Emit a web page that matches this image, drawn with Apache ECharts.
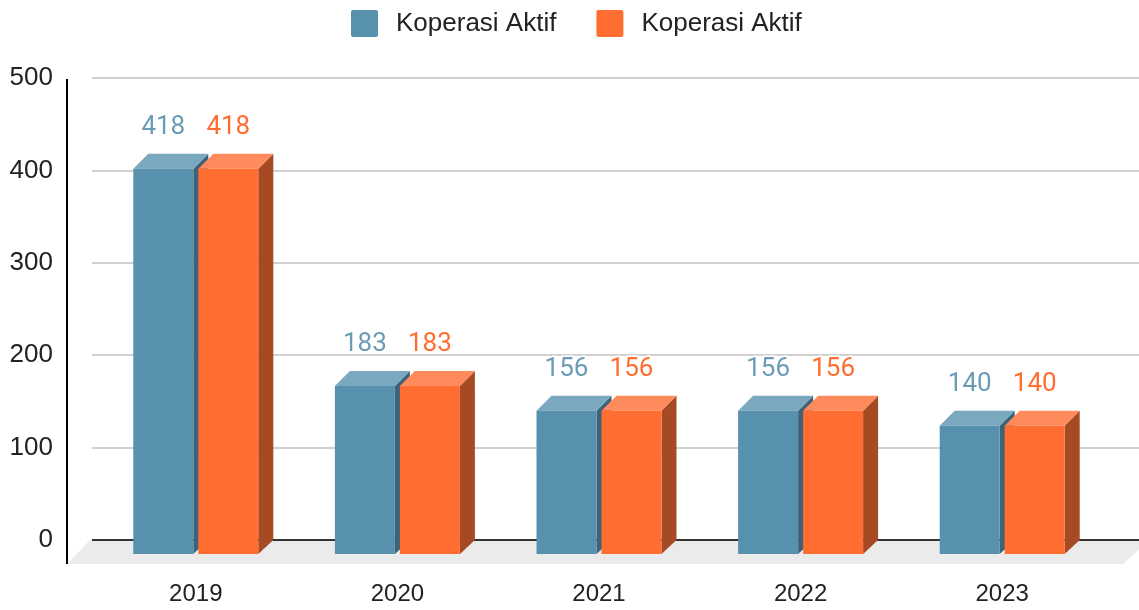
<!DOCTYPE html>
<html>
<head>
<meta charset="utf-8">
<script src="https://cdn.jsdelivr.net/npm/echarts@6/dist/echarts.min.js"></script>
<style>
  html, body { margin: 0; padding: 0; background: #fff; }
  #chart { width: 1139px; height: 610px; }
</style>
</head>
<body>
<div id="chart"></div>
<script>
// chart data
const years = ['2019', '2020', '2021', '2022', '2023'];
const seriesNames = ['Koperasi Aktif', 'Koperasi Aktif '];
const legendLabel = 'Koperasi Aktif';
const valuesA = [418, 183, 156, 156, 140];
const valuesB = [418, 183, 156, 156, 140];
const yTicks = [0, 100, 200, 300, 400, 500];

// pseudo 3D look
const BAR_W = 60;
const GAP = 5;
const DEPTH = 15;
const FLOOR = 24;

const palettes = [
  { front: '#5891ad', top: '#79a8bf', side: '#3d6379', label: '#6b9bb6' },
  { front: '#ff6d31', top: '#ff8a5b', side: '#a54a22', label: '#ff6d31' }
];

function barRenderer(idx) {
  const pal = palettes[idx];
  return function (params, api) {
    const v = api.value(1);
    const top = api.coord([api.value(0), v]);
    const base = api.coord([api.value(0), 0]);
    const x0 = idx === 0 ? top[0] - GAP / 2 - BAR_W : top[0] + GAP / 2;
    const yt = top[1];
    const yb = base[1];
    return {
      type: 'group',
      children: [
        {
          type: 'polygon',
          shape: { points: [[x0 + BAR_W, yt + DEPTH], [x0 + BAR_W + DEPTH, yt], [x0 + BAR_W + DEPTH, yb], [x0 + BAR_W, yb + DEPTH - 1]] },
          style: { fill: pal.side }
        },
        {
          type: 'polygon',
          shape: { points: [[x0, yt + DEPTH], [x0 + DEPTH, yt], [x0 + BAR_W + DEPTH, yt], [x0 + BAR_W, yt + DEPTH]] },
          style: { fill: pal.top }
        },
        {
          type: 'rect',
          shape: { x: x0, y: yt + DEPTH, width: BAR_W, height: yb - yt - 1 },
          style: { fill: pal.front }
        },
        {
          type: 'text',
          x: x0 + BAR_W / 2,
          y: yt - 26,
          style: {
            text: String(v),
            fill: pal.label,
            font: '26px Roboto',
            align: 'center',
            verticalAlign: 'middle',
            stroke: '#fff',
            lineWidth: 3
          }
        }
      ]
    };
  };
}

function floorRenderer(params, api) {
  const cs = params.coordSys;
  const y0 = api.coord([0, 0])[1];
  const left = cs.x;
  const right = cs.x + cs.width;
  return {
    type: 'group',
    children: [
      {
        type: 'polygon',
        shape: { points: [[left - 2, y0], [right + 10, y0], [right - 16, y0 + FLOOR], [left - 25, y0 + FLOOR]] },
        style: { fill: '#ebebeb' }
      },
      {
        type: 'line',
        shape: { x1: left, y1: y0, x2: right, y2: y0 },
        style: { stroke: '#333', lineWidth: 2 }
      },
      {
        type: 'line',
        shape: { x1: left - 25, y1: cs.y + 1, x2: left - 25, y2: y0 + FLOOR },
        style: { stroke: '#000', lineWidth: 2 }
      }
    ]
  };
}

const chart = echarts.init(document.getElementById('chart'));

const option = {
  animation: false,
  legend: {
    data: seriesNames,
    left: 346,
    top: 5,
    itemWidth: 27,
    itemHeight: 27,
    itemGap: 40,
    icon: 'path://M2,0H25Q27,0 27,2V25Q27,27 25,27H2Q0,27 0,25V2Q0,0 2,0Z',
    formatter: () => legendLabel,
    textStyle: {
      fontFamily: 'Liberation Sans',
      fontSize: 26,
      color: '#222',
      padding: [0, 0, 0, 13]
    }
  },
  grid: [
    { left: 92, right: 0, top: 78, bottom: 70 },
    { left: 95, right: 36, top: 78, bottom: 70 }
  ],
  xAxis: [
    { gridIndex: 0, type: 'value', min: 0, max: 1, show: false },
    {
      gridIndex: 1,
      type: 'category',
      data: years,
      axisLine: { show: false },
      axisTick: { show: false },
      axisLabel: { margin: 42, fontFamily: 'Liberation Sans', fontSize: 24, color: '#222' }
    }
  ],
  yAxis: [
    {
      gridIndex: 0,
      type: 'value',
      min: yTicks[0],
      max: yTicks[yTicks.length - 1],
      interval: yTicks[1] - yTicks[0],
      axisLine: { show: false },
      axisTick: { show: false },
      axisLabel: { margin: 39, fontFamily: 'Liberation Sans', fontSize: 26, color: '#222' },
      splitLine: { lineStyle: { color: '#d0d0d0', width: 2 } }
    },
    {
      gridIndex: 1,
      type: 'value',
      min: yTicks[0],
      max: yTicks[yTicks.length - 1],
      show: false,
      splitLine: { show: false }
    }
  ],
  series: [
    {
      name: 'floor',
      type: 'custom',
      xAxisIndex: 0,
      yAxisIndex: 0,
      silent: true,
      z: 1,
      renderItem: floorRenderer,
      data: [[0, 0]]
    },
    {
      name: seriesNames[0],
      type: 'custom',
      xAxisIndex: 1,
      yAxisIndex: 1,
      z: 2,
      itemStyle: { color: palettes[0].front },
      renderItem: barRenderer(0),
      data: years.map((y, i) => [y, valuesA[i]])
    },
    {
      name: seriesNames[1],
      type: 'custom',
      xAxisIndex: 1,
      yAxisIndex: 1,
      z: 3,
      itemStyle: { color: palettes[1].front },
      renderItem: barRenderer(1),
      data: years.map((y, i) => [y, valuesB[i]])
    }
  ]
};

chart.setOption(option);

window.addEventListener('resize', () => {
  chart.resize();
});
</script>
</body>
</html>
